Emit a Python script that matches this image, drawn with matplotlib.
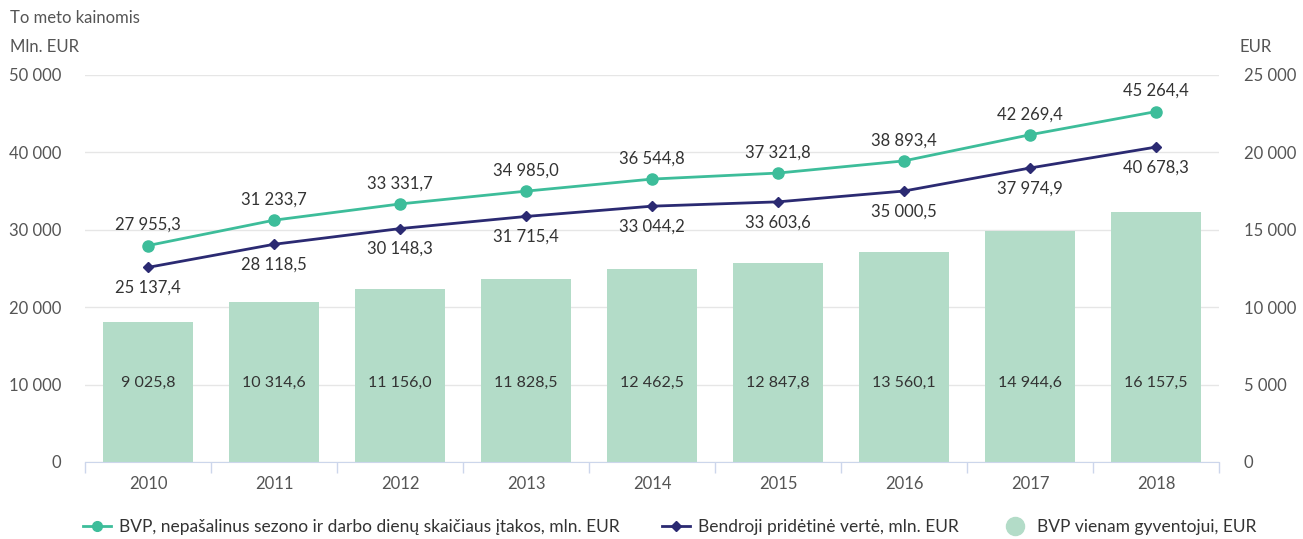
import matplotlib.pyplot as plt
from matplotlib.lines import Line2D

years = ["2010", "2011", "2012", "2013", "2014", "2015", "2016", "2017", "2018"]
bvp = [27955.3, 31233.7, 33331.7, 34985.0, 36544.8, 37321.8, 38893.4, 42269.4, 45264.4]
bpv = [25137.4, 28118.5, 30148.3, 31715.4, 33044.2, 33603.6, 35000.5, 37974.9, 40678.3]
per_capita = [9025.8, 10314.6, 11156.0, 11828.5, 12462.5, 12847.8, 13560.1, 14944.6, 16157.5]

TEAL = "#3dbd9a"
NAVY = "#2b2a72"
BAR = "#b3dcc8"
TXT = "#555555"
LBL = "#333333"

plt.rcParams['font.family'] = ['Lato', 'DejaVu Sans']


def fmt(v, dec=1):
    s = f"{v:,.{dec}f}".replace(",", " ").replace(".", ",")
    return s


fig = plt.figure(figsize=(13.03, 5.39), dpi=100)
ax = fig.add_axes([0.0652, 0.1429, 0.8703, 0.7181])
ax2 = ax.twinx()

x = list(range(len(years)))

# bars on the right axis
ax2.bar(x, per_capita, width=0.71, color=BAR, zorder=1)
for i, v in enumerate(per_capita):
    ax2.text(i, 5100, fmt(v), ha="center", va="center", fontsize=11.5, color=LBL)

ax2.set_ylim(0, 25000)
ax2.set_yticks(range(0, 25001, 5000))
ax2.set_yticklabels([fmt(t, 0) if t else "0" for t in range(0, 25001, 5000)],
                    fontsize=12, color=TXT)

# lines on the left axis, drawn above bars
ax.set_zorder(ax2.get_zorder() + 1)
ax.patch.set_visible(False)
ax.plot(x, bvp, color=TEAL, lw=2, marker="o", ms=8, zorder=3)
ax.plot(x, bpv, color=NAVY, lw=2, marker="D", ms=5.5, zorder=3)
for i in x:
    ax.annotate(fmt(bvp[i]), (i, bvp[i]), xytext=(0, 9), textcoords="offset points",
                ha="center", va="bottom", fontsize=12, color=LBL)
    ax.annotate(fmt(bpv[i]), (i, bpv[i]), xytext=(0, -9), textcoords="offset points",
                ha="center", va="top", fontsize=12, color=LBL)

ax.set_ylim(0, 50000)
ax.set_yticks(range(0, 50001, 10000))
ax.set_yticklabels([fmt(t, 0) if t else "0" for t in range(0, 50001, 10000)],
                   fontsize=12, color=TXT)
ax.set_xlim(-0.5, len(years) - 0.5)
ax.set_xticks(x)
ax.set_xticklabels(years, fontsize=12, color=TXT)
ax.set_xticks([i - 0.5 for i in range(len(years) + 1)], minor=True)
ax.tick_params(axis="x", which="major", length=0, pad=10)
ax.tick_params(axis="x", which="minor", length=8, color="#ccd6eb", width=1)
ax.tick_params(axis="y", length=0, pad=17)
ax2.tick_params(axis="y", length=0, pad=18)

ax2.yaxis.grid(True, color="#e6e6e6", lw=1)
ax2.set_axisbelow(True)
for a in (ax, ax2):
    for s in ("top", "right", "left"):
        a.spines[s].set_visible(False)
ax.spines["bottom"].set_color("#ccd6eb")
ax2.spines["bottom"].set_visible(False)

fig.text(0.0077, 0.967, "To meto kainomis", fontsize=12, color=TXT, va="center")
fig.text(0.0077, 0.912, "Mln. EUR", fontsize=12, color=TXT, va="center")
fig.text(0.951, 0.912, "EUR", fontsize=12, color=TXT, va="center")

handles = [
    Line2D([], [], color=TEAL, lw=2, marker="o", ms=7),
    Line2D([], [], color=NAVY, lw=2, marker="D", ms=5),
    Line2D([], [], color=BAR, lw=0, marker="o", ms=13),
]
labels = ["BVP, nepašalinus sezono ir darbo dienų skaičiaus įtakos, mln. EUR",
          "Bendroji pridėtinė vertė, mln. EUR",
          "BVP vienam gyventojui, EUR"]
fig.legend(handles, labels, loc="center", bbox_to_anchor=(0.514, 0.022), ncol=3,
           frameon=False, fontsize=12.5, labelcolor=LBL, handlelength=1.6,
           handletextpad=0.5, columnspacing=2.4)

fig.savefig("out.png", dpi=100)
